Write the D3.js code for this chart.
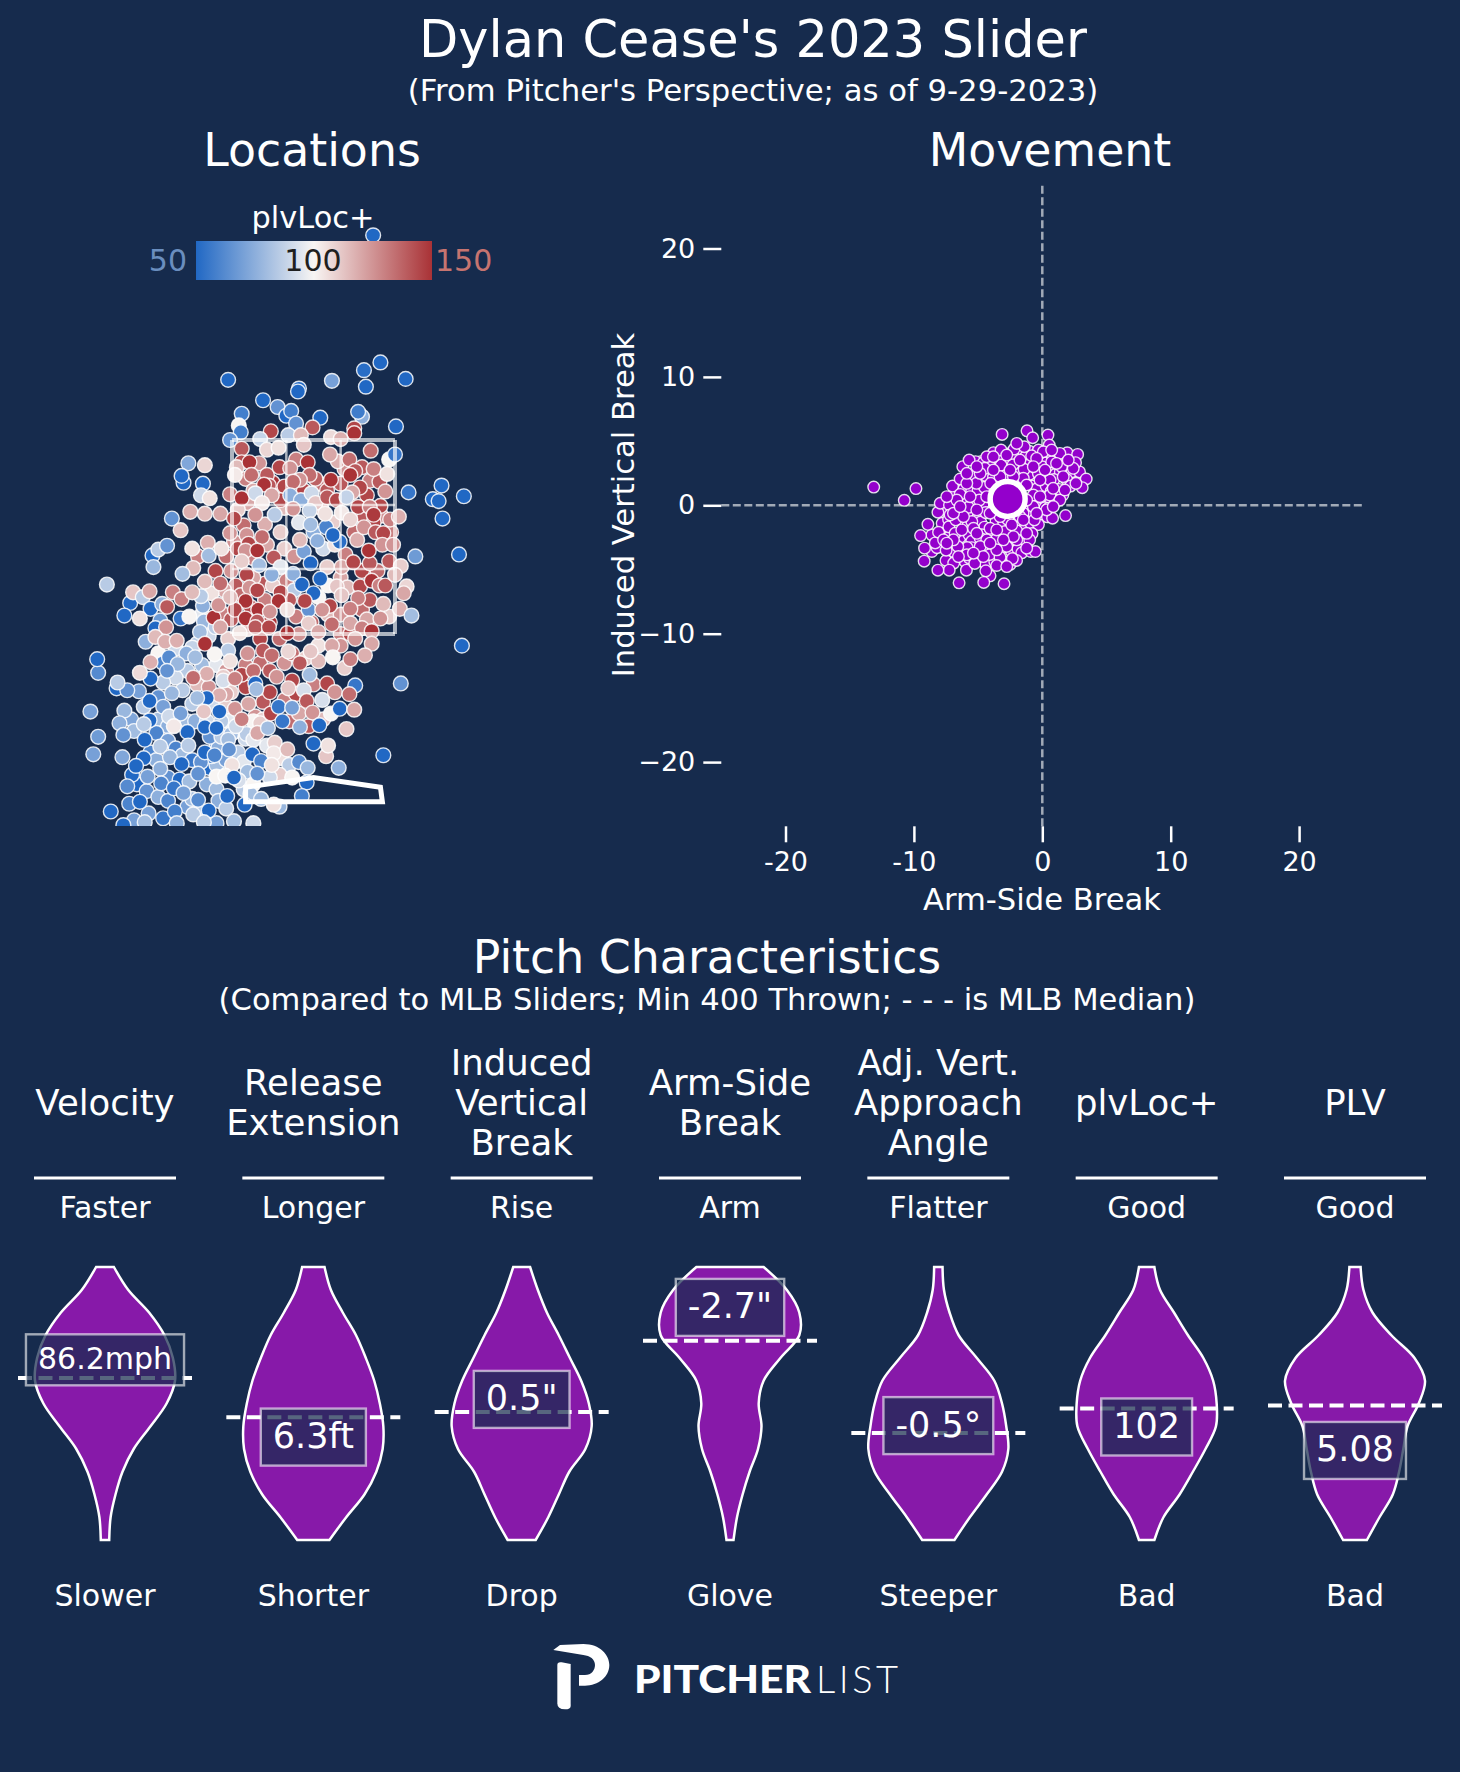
<!DOCTYPE html>
<html>
<head>
<meta charset="utf-8">
<script src="https://cdn.jsdelivr.net/npm/d3@7"></script>
<style>
  html, body { margin: 0; padding: 0; background: #162b4d; }
  svg { display: block; }
  text { font-family: "DejaVu Sans", sans-serif; fill: #fff; }
</style>
</head>
<body>
<svg width="1460" height="1772"></svg>
<script>
// pitch locations: plate x (ft), plate z (ft), plvLoc+
// partly hidden pitches in the dense parts, drawn first
const locPitchesUnder = [
[-.7,3.1,130],[-.62,2.98,120],[-.42,3.06,150],[-.1,2.98,145],[.06,3.05,135],[.28,3.05,140],[.58,3.08,130],[.68,3.07,140],[.32,3.2,125],[-.18,3.3,130],[.25,3.28,118],[.78,3.3,100],[-.3,2.8,115],[-.68,2.85,120],[-.78,2.78,110],[.08,2.8,135],[.52,2.7,140],[.7,2.72,125],[.2,2.65,110],[-.15,2.65,95],[-.5,2.63,118],[-.72,2.62,135],[.0,2.55,75],[.13,2.6,60],[.42,2.55,135],[.62,2.65,145],[.8,2.55,130],
[-.82,2.45,125],[-.9,2.3,135],[-.78,2.38,145],[-.62,2.28,130],[-.48,2.42,120],[-.3,2.38,110],[-.2,2.3,125],[.1,2.38,90],[.22,2.42,105],[.33,2.32,130],[.5,2.15,145],[.66,2.15,135],[.78,2.25,140],[.9,2.2,110],[.28,2.08,120],[.15,2.0,100],[-.28,2.05,130],[-.5,2.02,140],[-.62,2.08,120],[-.8,2.0,140],[-.92,1.95,120],[-1.05,1.92,105],[-.85,2.15,125],[-.2,1.95,85],[-.42,2.0,110],[.35,1.98,115],
[-.95,1.72,130],[-.85,1.65,140],[-.75,1.9,135],[-.65,1.78,145],[-.5,1.85,130],[-.45,1.62,150],[-.25,1.85,140],[-.18,1.68,130],[-.02,1.62,135],[.05,1.88,100],[.15,1.7,115],[.28,1.7,125],[.5,1.75,135],[.58,1.85,140],[.55,1.65,120],[.78,1.68,110],[.28,1.5,130],[-.15,1.5,125],[-.35,1.45,135],[-.55,1.45,145],[-.68,1.55,115],[-.88,1.45,110],[-1.08,1.48,90],[-1.15,1.7,95],[-1.2,1.4,85],
[-1.0,1.18,95],[-.9,1.12,125],[-.7,1.18,130],[-.55,1.2,135],[-.45,1.12,140],[-.3,1.2,125],[-.22,1.3,135],[-.08,1.25,110],[.05,1.22,115],[.05,1.38,105],[.28,1.38,125],[.32,1.15,110],[-1.15,1.18,80],[-1.3,1.12,85],[-1.42,1.05,90],[-1.55,1.0,85],[-1.2,.98,115],[-1.08,.95,125],[-.85,.9,110],[-.7,.95,145],[-.3,.82,130],[-.18,.88,145],[.0,.98,130],[-1.6,1.3,100],[-1.42,1.35,90],[-1.55,1.2,60],
[-1.75,.75,85],[-1.6,.85,65],[-1.35,.92,85],[-1.25,.78,85],[-1.05,.78,90],[-.9,.75,110],[-.9,.88,120],[-.6,.65,125],[-.52,.8,140],[-.52,.62,110],[-.62,.6,100],[-.25,.6,135],[-.15,.68,120],[-.05,.55,140],[.1,.62,115],[.18,.68,100],[-1.6,.62,80],[-1.5,.55,75],[-1.88,.62,72],[-1.85,.5,80],[-1.62,.48,60],[-1.3,.6,80],[-1.22,.6,75],[-1.1,.6,90],[-.88,.6,95],[-.78,.5,80],[-.7,.42,90],
[-1.68,.28,60],[-1.62,.2,75],[-1.75,.22,50],[-1.5,.4,70],[-1.42,.32,60],[-1.35,.25,80],[-1.25,.2,55],[-1.15,.12,70],[-1.08,.12,50],[-1.0,.15,80],[-.9,.2,70],[-.78,.28,85],[-.72,.18,95],[-.68,.08,80],[-.48,.35,95],[-.4,.38,110],[-.33,.22,105],[-.25,.15,85],[-.35,.05,110],[-.45,.02,90],[-.22,.02,100],[-1.5,.02,65],[-1.38,.0,50],[-1.28,-.02,80],[-1.1,-.05,75],[-1.0,-.1,80],[-.72,-.1,85],[-.62,-.05,100],
[-1.82,-.05,50],[-1.72,-.12,65],[-1.6,-.18,75],[-1.5,-.22,60],[-1.3,-.28,70],[-1.25,-.2,80],[-1.15,-.33,85],[-.98,-.22,75],[-.9,-.3,85],[-1.7,-.35,70],[-1.55,-.4,55],[-1.85,-.42,70],[-1.0,-.45,70],[-.65,-.15,80],[-.62,-.45,90]
];
const locPitches = [
[-1.0,.37,70],[-1.05,.24,50],[-1.16,.18,65],[-1.12,.28,50],[-.98,.33,75],[-1.07,.44,65],[-.95,.44,85],[-.85,.47,80],[-.69,.47,85],[-.62,.41,95],[-.55,.58,110],[-.8,.55,90],[-.95,.6,85],
[.615,5.61,50],[-.88,4.12,50],[.69,4.30,50],[.52,4.22,52],[.54,4.05,50],[.19,4.11,70],[.95,4.13,50],[-.15,4.03,50],[-.16,4.0,50],[-.52,3.91,50],[-.37,3.84,65],[-.28,3.75,50],[-.23,3.80,58],[-.74,3.77,58],[.07,3.73,50],[.50,3.74,75],[.46,3.79,57],[-.18,3.67,65],[.85,3.64,50],[-.77,3.65,100],[-.75,3.58,58],[-.44,3.59,145],[-.01,3.63,140],[.42,3.62,145],[.42,3.57,150],[-.86,3.50,65],[-.55,3.51,88],[-.26,3.55,85],[-.13,3.55,115],[.18,3.53,107],[.28,3.51,118],[-.48,3.40,108],[-.36,3.42,105],[-.10,3.45,112],[.17,3.35,120],[-.74,3.41,140],[.59,3.39,135],[.84,3.35,55],[-1.29,3.26,72],[-1.12,3.24,108],[-1.34,3.06,50],[-1.36,3.13,50],[-1.14,3.05,50],[-1.16,2.93,90],[-1.07,2.90,105],[.98,2.96,55],[1.32,3.03,50],[1.23,2.89,50],[1.29,2.87,50],[1.55,2.92,50],[1.33,2.69,50],[-1.46,2.69,65],[-1.27,2.76,118],[-1.12,2.74,115],[-.96,2.74,120],
[-.56,3.26,125],[-.74,3.27,143],[-.79,3.22,115],[-.66,3.27,150],[-.81,3.14,103],[-.64,3.14,135],[-.48,3.14,140],[-.35,3.22,145],[-.24,3.21,125],[-.06,3.27,150],[.02,3.10,138],[-.04,3.14,135],[-.14,3.09,125],[-.46,3.03,140],[-.51,3.04,150],[-.30,3.02,145],[-.21,3.07,135],[.14,2.98,140],[.18,3.09,150],[.37,3.30,135],[.50,3.22,140],[.43,3.18,140],[.62,3.20,130],[.38,3.14,150],[.76,3.15,105],[.55,2.93,145],[.48,3.01,145],[.40,2.96,120],[.74,2.97,125],[-.86,2.94,130],[-.74,2.90,150],[-.60,2.95,90],[-.34,2.88,145],[-.43,2.93,120],[-.53,2.85,103],[-.24,2.93,75],[-.13,2.88,75],[-.02,2.95,90],[.02,2.85,112],[.14,2.91,140],[.24,2.88,145],[.34,2.91,88],[.46,2.81,145],[.69,2.82,145],[.58,2.81,130],[.62,2.73,148],[-.21,2.79,125],[-.40,2.73,85],[-.04,2.77,88],[.12,2.74,105],[.29,2.75,103],[.38,2.68,108],[-.60,2.73,125],[-.82,2.69,145],[.79,2.68,130],[.88,2.71,118],
[-1.37,2.57,112],[.27,2.45,52],[.20,2.52,50],[1.50,2.32,50],[1.05,2.30,68],[-1.66,2.31,50],[-1.60,2.37,85],[-1.51,2.41,65],[-1.65,2.19,78],[-1.19,2.30,130],[-1.25,2.38,105],[-1.09,2.44,118],[-1.08,2.31,80],[-1.24,2.18,115],[-1.35,2.12,80],[-2.13,2.01,85],[-1.89,1.82,50],[-1.86,1.93,112],[-1.76,1.88,85],[-1.69,1.94,120],[-1.68,1.76,50],[-1.95,1.69,50],[-1.79,1.66,105],[-1.56,1.81,75],[-1.45,1.93,130],[-1.36,1.86,130],[-1.51,1.78,140],[-1.58,1.64,68],[-1.37,1.66,55],[-1.14,1.79,75],[-1.16,1.89,85],[-1.25,1.93,115],[-1.28,1.68,100],[-1.13,1.63,78],[-1.01,1.57,85],[-1.63,1.56,50],[-1.52,1.57,125],[-1.73,1.42,75],[-1.63,1.47,115],[-1.53,1.42,118],[-1.41,1.43,118],[-1.17,1.52,80],
[-1.01,2.15,145],[-.96,2.02,135],[-1.12,2.04,115],[-.95,2.38,105],[-.86,2.54,125],[-.69,2.52,125],[-.53,2.50,135],[-.67,2.43,145],[-.70,2.36,125],[-.58,2.36,150],[-.74,2.25,110],[-.41,2.29,140],[-.56,2.21,80],[-.34,2.19,95],[-.43,2.11,75],[-.21,2.12,75],[-.10,2.35,70],[.04,2.46,75],[-.03,2.63,80],[-.34,2.55,110],[-.14,2.47,115],[.14,2.19,110],[.29,2.19,120],[.41,2.24,145],[.58,2.23,140],[.57,2.36,150],[.45,2.47,118],[.52,2.60,125],[.64,2.55,140],[.72,2.54,145],[.71,2.42,125],[.82,2.42,125],[-.12,2.01,50],[.07,2.07,50],[-.03,2.23,50],[0,1.92,50],[-.05,1.75,65],[.48,1.99,145],[.60,2.05,150],[.68,2.00,130],[.74,2.00,140],[.84,2.11,115],[.96,1.99,108],[.93,1.92,120],[.46,1.87,130],[.72,1.81,115],[.89,1.76,118],[1.01,1.69,80],[.69,1.66,125],[.38,1.76,130],[.17,1.79,145],[.09,1.75,125],[.24,1.99,112],[.29,1.90,112],
[-.69,2.11,145],[-.66,1.98,125],[-.58,1.95,145],[-.70,1.84,150],[-.81,1.75,145],[-.57,1.75,150],[-.70,1.66,150],[-.58,1.63,140],[-.34,1.93,145],[-.36,1.84,150],[-.45,1.73,125],[-.27,1.75,105],[-.09,1.84,145],[-1.03,1.67,150],[-.98,1.80,125],[-.86,1.88,115],[-.96,1.57,120],[-.76,1.51,105],[-.60,1.57,140],[-.46,1.57,145],[-.27,1.51,150],[-.05,1.61,110],[.05,1.52,120],[.19,1.60,135],[.38,1.50,145],[.38,1.61,120],[.50,1.56,130],[.60,1.53,150],[.43,1.45,125],[.60,1.40,120],[.19,1.38,120],[.38,1.24,130],[.53,1.28,118],[.20,1.26,100],[-.26,1.32,108],[-.03,1.32,112],[-.52,1.33,140],[-.43,1.28,135],[-.68,1.30,125],[-.88,1.33,85],[-1.02,1.29,100],[-1.25,1.36,88],[-1.12,1.40,150],[-.86,1.22,105],[-1.31,1.30,75],[-1.22,1.26,80],
[-1.49,1.26,62],[-1.40,1.19,78],[-1.68,1.21,118],[-1.68,1.04,50],[-1.79,1.10,107],[-1.51,1.12,65],[-1.10,1.09,118],[-1.24,1.05,135],[-.93,1.06,110],[-.93,1.02,92],[-.74,1.08,145],[-.62,1.12,135],[-.81,1.04,130],[-.38,1.06,125],[-.22,1.02,145],[-.14,1.20,140],[-.04,1.08,80],[.14,.99,145],[.22,.90,125],[.43,.97,55],[.37,.88,135],[-.26,.94,112],[-.10,.92,92],[-.45,.90,145],[-.60,.99,50],[-.59,.93,80],[-.97,.87,118],[-1.10,.84,50],[-1.46,.89,78],[-1.69,.81,50],[-1.80,.91,70],[-2.03,.94,50],[-1.92,.92,65],[-2.02,1.00,85],[-2.22,1.10,62],[-2.23,1.24,50],
[-2.30,.70,70],[-1.95,.71,78],[-2.00,.58,75],[-1.96,.46,65],[-2.22,.44,68],[-2.27,.26,70],[-1.97,.23,72],[-1.87,.05,50],[-1.83,.14,50],[-1.71,.03,70],[-1.92,-.07,62],[-1.69,.61,50],[-1.75,.57,85],[-1.74,.41,50],[-1.58,.34,85],[-1.48,.23,78],[-1.36,.16,50],[-1.58,.11,75],[-1.57,-.04,60],[-1.44,-.09,55],[-1.34,-.14,70],[-1.19,.06,65],[-1.19,-.21,62],[-1.08,-.32,50],[-1.90,-.25,60],[-1.79,-.23,50],[-2.09,-.33,50],[-1.96,-.47,50],[-1.74,-.44,80],[-1.43,-.33,58],[-1.41,-.45,75],[-1.24,-.36,85],[-.89,-.17,50],[-.82,-.43,80],[-1.55,.75,70],[-1.49,.65,90],[-1.37,.68,70],[-1.44,.55,103],[-1.30,.49,50],[-1.29,.35,85],[-1.20,.84,80],[-1.13,.70,112],[-.97,.70,50],[-1.12,.54,50],[-1.00,.53,50],[-.88,.41,80],[-.87,.31,65],[-1.02,.25,60],
[-.81,.73,125],[-.67,.78,120],[-.74,.62,130],[-.58,.48,120],[-.47,.53,80],[-.44,.68,145],[-.36,.75,55],[-.22,.74,70],[-.32,.60,55],[-.14,.54,75],[-.07,.81,140],[-.01,.69,125],[.09,.82,92],[.27,.73,50],[.42,.72,120],[.34,.52,112],[.06,.56,50],[.13,.24,112],[.15,.35,105],[0,.37,50],[.26,.12,75],[.72,.25,50],[.90,.99,65],[1.53,1.38,50],[-.63,.26,50],[-.54,.19,60],[-.41,.27,103],[-.27,.31,115],[-.43,.15,105],[-.15,.18,62],[-.06,.12,78],[-.07,-.03,50],[-.12,-.17,58],[-.35,-.28,78],[-.41,-.26,105],[-.54,-.20,78],[-.71,-.26,50],[-.77,-.01,92],[-.84,.15,105],[-.58,.06,65],[-1.00,.03,100],[-.91,.04,100],[-.82,.02,50],[-1.13,-.44,85]
];

// movement: arm-side break (in), induced vertical break (in)
const movePitchesUnder = [
[-3.8,4.1],[-3,3.8],[-2.4,4.1],[-1.8,4.1],[-1,4.2],[-.3,4.3],[.4,3.8],[1,3.7],[1.7,3.7],[2.2,3.3],[-4.8,3.4],
[-5.2,3.4],[-4.6,3.3],[-4,3.3],[-3.4,3.6],[-2.7,3.4],[-2.2,3.7],[-1.3,3.8],[-.9,3.3],[-.3,3.5],[.3,3.3],[.8,3.8],[1.5,3.5],[1.9,3],[2.3,2.6],[2.9,2.6],
[-5.4,2.4],[-4.4,2.3],[-3.8,2.2],[-3.2,2.7],[-2.8,2.4],[-2,2.5],[-1,2.4],[-.5,2.9],[0,3],[.5,2.6],[1,2.4],[1.4,2.6],[1.9,2],[2.2,1.5],[.9,2],[.2,2.1],
[-6.1,1.3],[-5.5,1.1],[-5,1.2],[-4.5,1.4],[-3.6,1.6],[-3.3,1.2],[-2.3,1.6],[-1.7,1.7],[-.8,1.5],[-.4,1.3],[.3,1.5],[.7,1.1],[1.6,.8],[1.1,.7],
[-6.9,.9],[-6,.3],[-5.4,.3],[-4.6,.1],[-3.9,.5],[-3.2,.6],[-1.5,.2],[-.9,.3],[-.3,.2],[.2,.4],[.6,.1],[1,.2],[.2,-.2],
[-7.6,-.3],[-6.6,-.5],[-5.6,-.7],[-5,-.9],[-3.8,-.3],[-3,-.5],[-2.4,-.6],[-1.8,-.3],[-1.1,-.5],[-.7,-.6],[0,-.7],[.4,-.9],[-1.5,-.6],
[-7.8,-1.4],[-7.3,-1.1],[-6.2,-1.3],[-5.8,-1.6],[-4.8,-1.3],[-4.5,-1.7],[-3.6,-1.2],[-3,-1.4],[-2.7,-1.1],[-1.9,-1.4],[-1.3,-1.6],[-.9,-1.4],[-.3,-1.5],
[-8.6,-2.3],[-7.8,-2.2],[-7.2,-2.4],[-6.4,-2.5],[-5.7,-2.3],[-5.5,-2.8],[-4.7,-2.3],[-3.9,-2.3],[-3.3,-2.4],[-2.4,-2.1],[-2.5,-2.8],[-1.6,-2.5],[-1.4,-3],[-.8,-2.2],
[-8.6,-3.6],[-8.2,-3.3],[-7.2,-3.2],[-6.9,-3.6],[-6.2,-3.5],[-5.5,-3.3],[-5,-3.6],[-4.4,-3.4],[-3.8,-3.3],[-3.1,-3.3],[-2.4,-3.6],[-1.9,-3.4],[-1.6,-3.7],[-.9,-3.6],
[-7.5,-4.3],[-6.9,-4.5],[-6,-4.4],[-5.7,-4.1],[-4.9,-4.3],[-4.4,-4.6],[-3.7,-4.4],[-3,-4.4],[-2.5,-4.6],[-2,-4.3]
];
const movePitches = [
[-13.13,1.42],[-9.84,1.30],[-10.75,.39],[-3.13,5.52],[-1.19,5.80],[-.75,5.26],[.44,5.47],[.54,4.69],[1.94,4.09],[2.75,3.96],[2.59,3.32],[3.42,2.05],[3.11,1.37],[2.62,1.71],[1.81,-.80],[.80,-1.01],[.47,-.23],[1.30,1.24],[.60,.80],[-.62,-1.14],[-.54,-3.60],[-.98,-2.69],[-1.99,-1.99],[-2.33,-4.15],[-2.98,-6.11],[-4.07,-5.49],[-4.40,-5.10],[-4.56,-6.01],[-6.48,-6.04],[-5.91,-5.05],[-7.25,-5.05],[-8.13,-5.05],[-9.20,-4.35],[-9.17,-3.34],[-9.48,-2.36],[-8.91,-1.48],[-8.34,-2.93],[-8.08,-2.10],[-7.49,-3.50],[-7.28,-1.68],[-8.13,-.54],[-7.95,.16],[-6.99,1.50],[-6.40,2.05],[-6.19,3.01],[-5.70,3.52],[-4.33,3.78],[-3.21,4.30],[-2.20,4.38],[-1.40,4.56],[-.83,3.86],[.08,4.17],[.73,3.39],[1.50,3.01],[2.41,2.88],[1.37,4.04],[.73,4.30],[-4.48,2.88],[-3.21,3.13],[-2.28,3.16],[-1.42,2.80],[-.31,2.49],[.60,1.97],[-.70,.80],[-1.48,2.10],[-2.25,2.23],[-4.02,1.71],[-5.13,1.71],[-6.40,.85],[-7.23,.03],[-5.75,-.16],[-4.90,.41],[-4.40,-.57],[-5.49,-1.27],[-6.74,-1.14],[-6.79,-2.18],[-4.84,-2.56],[-3.63,-2.69],[-4.07,-1.79],[-2.90,-2.05],[-5.85,-3.29],[-6.58,-3.21],[-5.26,-4.53],[-4.07,-3.83],[-3.29,-4.04],[-3.55,-4.69],[-2.77,-4.77],[-1.22,-3.34],[-1.74,-.88],[-2.38,-1.53],[-3.29,-.88],[-.70,-.10],[.34,-.36],[1.37,.41],[1.76,1.19],[.85,1.32],[-.18,1.97],[-1.22,1.58],[-3.81,3.78],[-2.77,3.91],[-1.99,4.82],[-.44,3.65],[.21,2.75],[1.63,2.23],[2.02,3.52],[1.11,3.26],[-4.33,.67],[-3.55,-.10],[-5.10,-.36],[-6.14,-.88],[-7.18,-.75],[-6.27,-1.92],[-5.36,-1.79],[-4.33,-2.69],[-5.88,-3.86],[-4.84,-3.21],[-6.92,-2.69],[-7.69,-2.69],[-1.99,-2.69],[-2.77,-3.21],[-3.55,-3.47],[-4.59,-3.99],[-1.48,-1.14],[-2.25,-2.44],[-4.84,2.49],[-5.88,1.71],[-6.66,.41],[-7.44,.67],[-5.62,.67],[-3.29,2.23],[-2.77,1.19],[-1.74,.93],[-.18,.67],[-.44,-.62],[.85,-.10],[-1.22,.41],[-.70,3.01],[-1.74,3.52],[-2.51,2.75],[-3.81,2.75],[-5.10,3.01],[-5.88,2.49],[-6.92,-.62],[-6.40,-.10],[-1.22,-2.18],[-4.07,-.62],[-5.10,-2.18],[-3.55,-1.92],[-3.03,-2.69],[-4.07,-2.95],[-6.53,-3.99],[-7.44,-2.95],[-5.36,-3.73]
];
const moveMean = [-2.7, 0.5];

// violin columns
const colTitles = [['Velocity'], ['Release','Extension'], ['Induced','Vertical','Break'], ['Arm-Side','Break'], ['Adj. Vert.','Approach','Angle'], ['plvLoc+'], ['PLV']];
const topLabels = ['Faster','Longer','Rise','Arm','Flatter','Good','Good'];
const bottomLabels = ['Slower','Shorter','Drop','Glove','Steeper','Bad','Bad'];
const valueLabels = ['86.2mph','6.3ft','0.5"','-2.7"','-0.5\u00b0','102','5.08'];
// height in the violin, 0 = top of its range, 1 = bottom
const valuePos = [.340,.623,.485,.148,.581,.586,.672];
const medianPos = [.407,.550,.531,.270,.608,.518,.507];
// relative density, top to bottom, at equal steps
const densities = [
  [.127,.33,.63,.85,.97,1,.88,.65,.41,.25,.15,.08,.06],
  [.16,.25,.42,.61,.75,.87,.95,1,.99,.9,.73,.47,.23],
  [.12,.23,.36,.53,.69,.85,.96,1,.91,.68,.53,.38,.2],
  [.48,.81,.99,.99,.72,.48,.41,.45,.4,.28,.18,.1,.05],
  [.06,.08,.16,.29,.55,.8,.91,.97,1,.91,.69,.45,.23],
  [.11,.19,.39,.59,.81,.95,1,.99,.84,.66,.47,.24,.11],
  [.08,.12,.25,.52,.85,1,.91,.75,.69,.63,.54,.35,.17]
];

const zoneX = [-.84, -.28, .28, .84];
const zoneZ = [1.5, 2.17, 2.83, 3.5];
const plateOutline = [[-.70,-.08],[0,.02],[.69,-.08],[.71,-.23],[-.70,-.23]];
const moveTicks = [-20,-10,0,10,20];

const bg = '#162b4d';
const purple = '#8719a9';
const pointPurple = '#9400cc';
const svg = d3.select('svg');
svg.append('rect').attr('width', 1460).attr('height', 1772).attr('fill', bg);

const label = (x, y, str, size, anchor = 'middle') => svg.append('text')
  .attr('x', x).attr('y', y).attr('font-size', size)
  .attr('text-anchor', anchor).attr('dominant-baseline', 'central')
  .text(str);

label(753, 39, "Dylan Cease's 2023 Slider", 51);
label(753, 90, "(From Pitcher's Perspective; as of 9-29-2023)", 30.7);
label(312, 150, 'Locations', 45.8);
label(1050, 150, 'Movement', 45.8);
label(707, 957, 'Pitch Characteristics', 45.8);
label(707, 999, '(Compared to MLB Sliders; Min 400 Thrown; - - - is MLB Median)', 30.6);

// ---- locations
const xLoc = d3.scaleLinear().domain([-1, 1]).range([313.5 - 97, 313.5 + 97]);
const yLoc = d3.scaleLinear().domain([0, 1]).range([779.5, 779.5 - 97]);
const colorPlv = d3.scaleLinear().domain([50, 100, 150]).range(['#2168c4', '#f8f5f3', '#a93236']).clamp(true);

svg.append('clipPath').attr('id', 'locClip').append('rect')
  .attr('x', 0).attr('y', 0).attr('width', 560).attr('height', 826);

svg.append('g').attr('clip-path', 'url(#locClip)')
  .selectAll('circle').data(locPitchesUnder.concat(locPitches)).enter().append('circle')
    .attr('cx', d => xLoc(d[0]))
    .attr('cy', d => yLoc(d[1]))
    .attr('r', 7.4)
    .attr('fill', d => colorPlv(d[2]))
    .attr('stroke', '#fff').attr('stroke-opacity', .85).attr('stroke-width', 1.4);

const zone = svg.append('g').attr('stroke', '#fff').attr('stroke-opacity', .65).attr('fill', 'none');
zoneX.forEach((x, i) => zone.append('line')
  .attr('x1', xLoc(x)).attr('x2', xLoc(x)).attr('y1', yLoc(zoneZ[0])).attr('y2', yLoc(zoneZ[3]))
  .attr('stroke-width', i % 3 ? 2.5 : 4));
zoneZ.forEach((z, i) => zone.append('line')
  .attr('x1', xLoc(zoneX[0])).attr('x2', xLoc(zoneX[3])).attr('y1', yLoc(z)).attr('y2', yLoc(z))
  .attr('stroke-width', i % 3 ? 2.5 : 4));

svg.append('path')
  .attr('d', d3.line().x(d => xLoc(d[0])).y(d => yLoc(d[1])).curve(d3.curveLinearClosed)(plateOutline))
  .attr('fill', 'none').attr('stroke', '#fff').attr('stroke-width', 5);

// colour bar
const grad = svg.append('defs').append('linearGradient').attr('id', 'plvGrad');
[50, 100, 150].forEach(v => grad.append('stop')
  .attr('offset', `${v - 50}%`).attr('stop-color', colorPlv(v)));
svg.append('rect').attr('x', 196).attr('y', 241).attr('width', 236).attr('height', 39).attr('fill', 'url(#plvGrad)');
label(313, 217, 'plvLoc+', 30.4);
label(187, 260, '50', 30, 'end').style('fill', '#6a8ebf');
label(313, 260, '100', 30).style('fill', '#1f1f1f');
label(435, 260, '150', 30, 'start').style('fill', '#c67470');

// ---- movement
const xMove = d3.scaleLinear().domain([-25, 25]).range([1042.3 - 321, 1042.3 + 321]);
const yMove = d3.scaleLinear().domain([-25, 25]).range([505.3 + 321, 505.3 - 321]);

const zero = svg.append('g').attr('stroke', '#fff').attr('stroke-opacity', .6)
  .attr('stroke-width', 2.5).attr('stroke-dasharray', '8 3.5');
zero.append('line').attr('x1', xMove(-25)).attr('x2', xMove(25)).attr('y1', yMove(0)).attr('y2', yMove(0));
zero.append('line').attr('x1', xMove(0)).attr('x2', xMove(0)).attr('y1', yMove(-25)).attr('y2', yMove(25));

// y labels use a real minus, x labels a plain hyphen, as in the original
const yAxis = d3.axisLeft(yMove).tickValues(moveTicks).tickSize(18).tickPadding(8)
  .tickFormat(d => d < 0 ? `\u2212${-d}` : d);
const xAxis = d3.axisBottom(xMove).tickValues(moveTicks).tickSize(16).tickPadding(10)
  .tickFormat(d => `${d}`);
[[yAxis, `translate(${xMove(-25)},0)`], [xAxis, `translate(0,${yMove(-25)})`]].forEach(([ax, tr]) => {
  const g = svg.append('g').attr('transform', tr).call(ax);
  g.select('.domain').remove();
  g.selectAll('line').attr('stroke', '#fff').attr('stroke-width', 2.5);
  g.selectAll('text').attr('font-size', 27).attr('font-family', '"DejaVu Sans"');
});
label(1042, 899, 'Arm-Side Break', 30.6);
label(0, 0, 'Induced Vertical Break', 30.6).attr('transform', 'translate(623,505) rotate(-90)');

svg.append('g').selectAll('circle').data(movePitchesUnder.concat(movePitches)).enter().append('circle')
  .attr('cx', d => xMove(d[0]))
  .attr('cy', d => yMove(d[1]))
  .attr('r', 5.8)
  .attr('fill', pointPurple)
  .attr('stroke', '#fff').attr('stroke-opacity', .85).attr('stroke-width', 1.4);
svg.append('circle')
  .attr('cx', xMove(moveMean[0])).attr('cy', yMove(moveMean[1])).attr('r', 17.5)
  .attr('fill', pointPurple).attr('stroke', '#fff').attr('stroke-width', 5.5);

// ---- violins
const xCol = d3.scalePoint().domain(d3.range(7)).range([105, 1355]);
const yViolin = d3.scaleLinear().domain([0, 1]).range([1267, 1540]);
const halfW = d3.scaleLinear().domain([0, 1]).range([0, 70]);

colTitles.forEach((lines, i) => {
  const cx = xCol(i);
  const lineStep = 40;
  lines.forEach((s, j) => label(cx, 1102 + (j - (lines.length - 1) / 2) * lineStep, s, 35.5));
  svg.append('line').attr('x1', cx - 71).attr('x2', cx + 71).attr('y1', 1178).attr('y2', 1178)
    .attr('stroke', '#fff').attr('stroke-width', 3);
  label(cx, 1207, topLabels[i], 30);
  label(cx, 1595, bottomLabels[i], 30);

  const rows = densities[i].map((d, k) => [k / (densities[i].length - 1), d]);
  const area = d3.area().curve(d3.curveCatmullRom.alpha(.5))
    .y(d => yViolin(d[0])).x0(d => cx - halfW(d[1])).x1(d => cx + halfW(d[1]));
  svg.append('path').attr('d', area(rows) )
    .attr('fill', purple).attr('stroke', '#fff').attr('stroke-width', 2.5);

  svg.append('line').attr('x1', cx - 87).attr('x2', cx + 87)
    .attr('y1', yViolin(medianPos[i])).attr('y2', yViolin(medianPos[i]))
    .attr('stroke', '#fff').attr('stroke-width', 4).attr('stroke-dasharray', '14 6.5');

  const size = i === 0 ? 30 : 35;
  const t = label(cx, yViolin(valuePos[i]) - 1, valueLabels[i], size);
  const w = t.node().getComputedTextLength() + 24;
  const h = i === 0 ? 51 : 57;
  svg.insert('rect', () => t.node())
    .attr('x', cx - w / 2).attr('y', yViolin(valuePos[i]) - h / 2).attr('width', w).attr('height', h)
    .attr('fill', bg).attr('fill-opacity', .72)
    .attr('stroke', '#fff').attr('stroke-opacity', .6).attr('stroke-width', 2.4);
});

// ---- logo
svg.append('g').attr('transform', 'translate(520,1620) scale(.3333)').attr('fill', '#fff').selectAll('path')
  .data([
    'M100,90 L120,75 L190,72 C240,72 268,105 268,135 C268,170 235,197 195,197 L177,197 L177,165 L195,165 C215,165 225,150 225,135 C225,118 210,107 190,105 Z',
    'M112,135 Q112,125 125,127 L152,132 L152,258 Q152,268 135,268 Q112,268 112,250 Z'
  ]).enter().append('path').attr('d', d => d);
svg.append('text').attr('x', 634).attr('y', 1693).attr('font-size', 38)
  .attr('textLength', 177).attr('lengthAdjust', 'spacingAndGlyphs')
  .style('font-family', 'Lato').style('font-weight', 900).text('PITCHER');
svg.append('text').attr('x', 816).attr('y', 1693).attr('font-size', 38)
  .attr('textLength', 82).attr('lengthAdjust', 'spacing')
  .style('font-family', 'Lato').style('font-weight', 300).text('LIST');
</script>
</body>
</html>
